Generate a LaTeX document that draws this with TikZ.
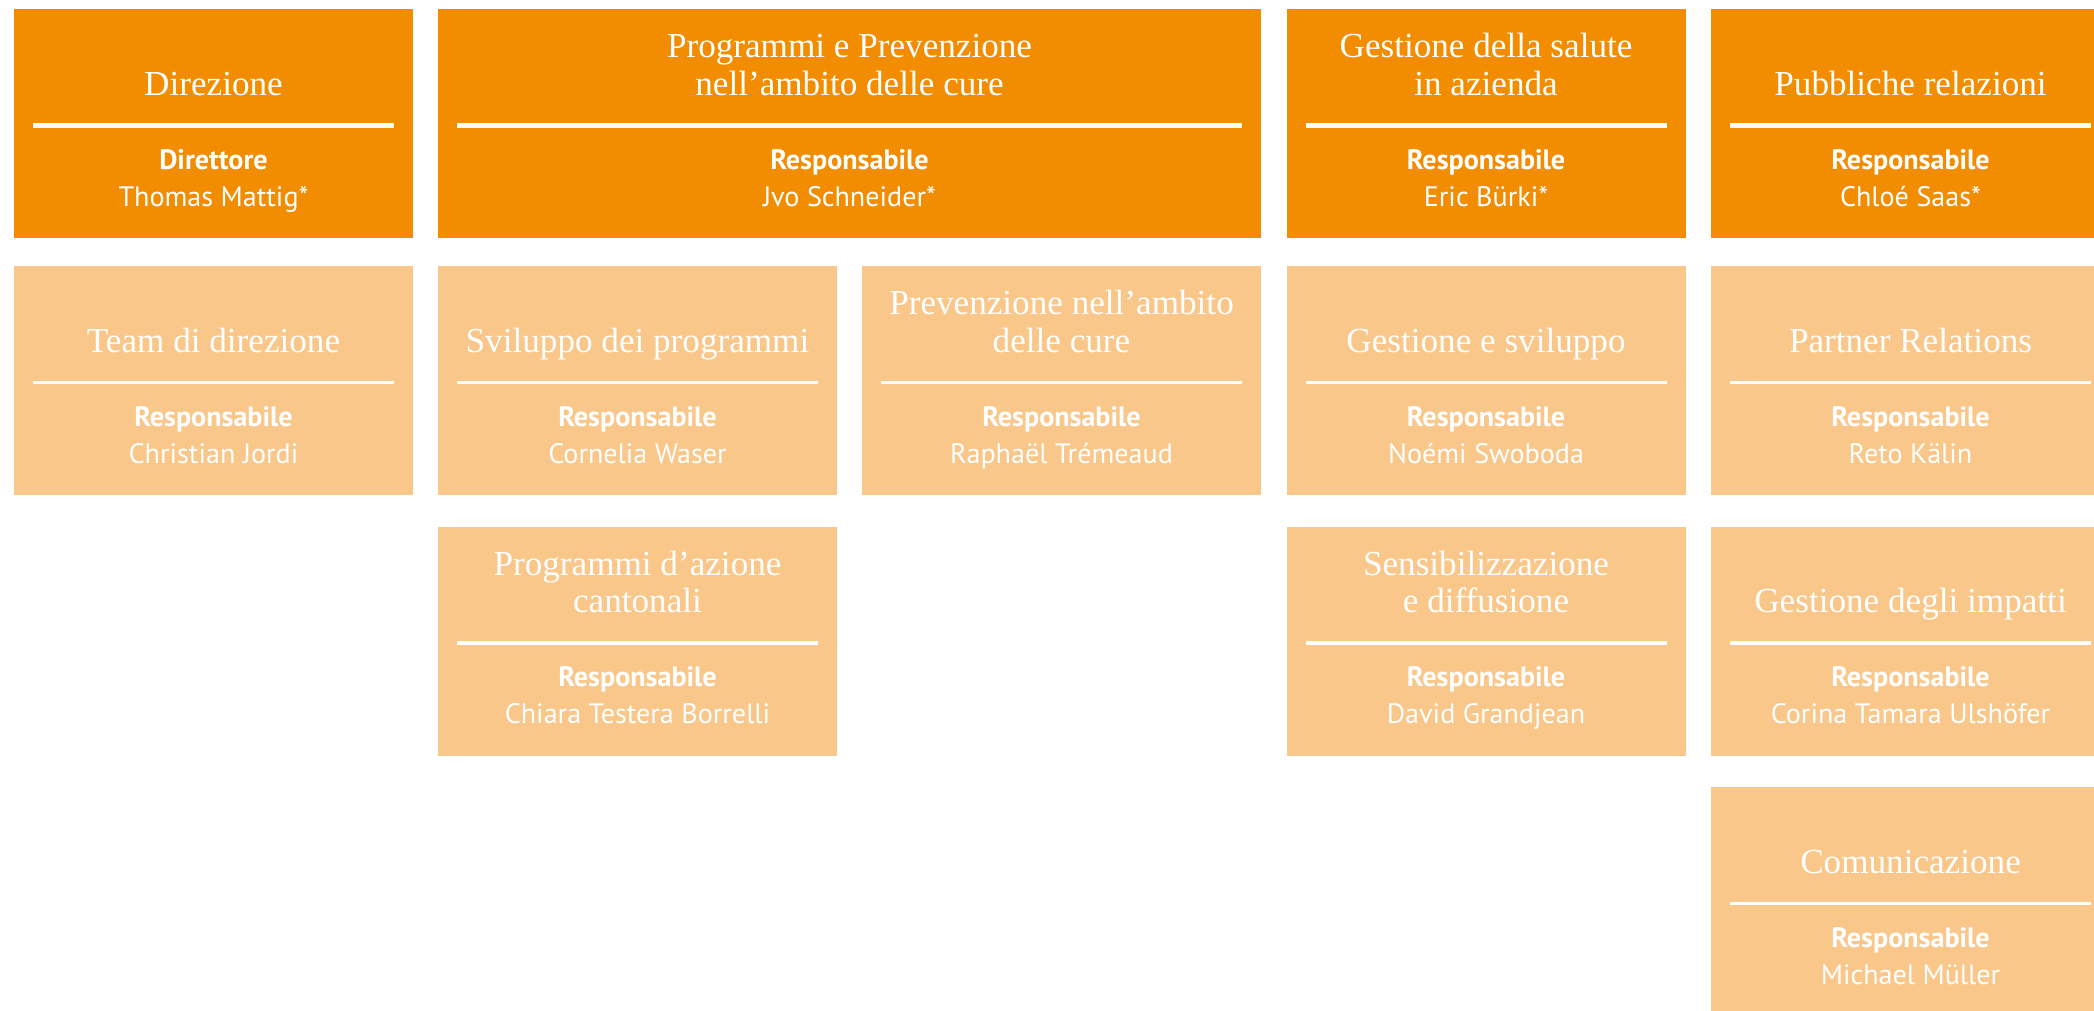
\documentclass[tikz,border=0pt]{standalone}
\usepackage{fontspec}
\setmainfont{Liberation Serif}
\setsansfont{PT Sans}
\definecolor{arancio}{HTML}{F28C00}
\definecolor{pesca}{HTML}{F9C78A}
\tikzset{
	%caselle dell'organigramma
	casella/.style = {anchor=north west, inner sep=0pt, outer sep=0pt,
                           minimum width=3.99cm, minimum height=2.295cm},
	capo/.style = {casella, fill=arancio},
	ufficio/.style = {casella, fill=pesca},
	%testi
	titolo/.style = {anchor=south, inner sep=0pt, text depth=0pt, align=center,
                           text=white, font=\fontsize{10}{10.7}\selectfont},
	nome/.style = {anchor=south, inner sep=0pt, text depth=0pt, align=center,
                           text=white, font=\sffamily\fontsize{8}{10.5}\selectfont},
	riga/.style = {white, line width=1.4pt},
	rigafine/.style = {white, line width=0.9pt}
}

\begin{document}
\begin{tikzpicture}
	\useasboundingbox (0,0) rectangle (20.94,-10.11);
	\clip (0,0) rectangle (20.94,-10.11);
	%caselle
	\node[capo] (dir)  at (0.14, -0.09) {};
	\node[capo, minimum width=8.23cm] (prog) at (4.38, -0.09) {};
	\node[capo] (bgm)  at (12.865, -0.09) {};
	\node[capo] (pr)   at (17.11, -0.09) {};
	\node[ufficio] (team) at (0.14, -2.66) {};
	\node[ufficio] (svil) at (4.38, -2.66) {};
	\node[ufficio] (prev) at (8.62, -2.66) {};
	\node[ufficio] (gest) at (12.865, -2.66) {};
	\node[ufficio] (part) at (17.11, -2.66) {};
	\node[ufficio] (cant) at (4.38, -5.265) {};
	\node[ufficio] (sens) at (12.865, -5.265) {};
	\node[ufficio] (imp)  at (17.11, -5.265) {};
	\node[ufficio] (com)  at (17.11, -7.87) {};
	%titoli
	\node[titolo] (dir-t)  at ([yshift=-0.87cm]dir.north)  {Direzione};
	\node[titolo] (prog-t) at ([yshift=-0.87cm]prog.north) {Programmi e Prevenzione\\nell’ambito delle cure};
	\node[titolo] (bgm-t)  at ([yshift=-0.87cm]bgm.north)  {Gestione della salute\\in azienda};
	\node[titolo] (pr-t)   at ([yshift=-0.87cm]pr.north)   {Pubbliche relazioni};
	\node[titolo] (team-t) at ([yshift=-0.87cm]team.north) {Team di direzione};
	\node[titolo] (svil-t) at ([yshift=-0.87cm]svil.north) {Sviluppo dei programmi};
	\node[titolo] (prev-t) at ([yshift=-0.87cm]prev.north) {Prevenzione nell’ambito\\delle cure};
	\node[titolo] (gest-t) at ([yshift=-0.87cm]gest.north) {Gestione e sviluppo};
	\node[titolo] (part-t) at ([yshift=-0.87cm]part.north) {Partner Relations};
	\node[titolo] (cant-t) at ([yshift=-0.87cm]cant.north) {Programmi d’azione\\cantonali};
	\node[titolo] (sens-t) at ([yshift=-0.87cm]sens.north) {Sensibilizzazione\\e diffusione};
	\node[titolo] (imp-t)  at ([yshift=-0.87cm]imp.north)  {Gestione degli impatti};
	\node[titolo] (com-t)  at ([yshift=-0.87cm]com.north)  {Comunicazione};
	%responsabili
	\node[nome] (dir-n)  at ([yshift=-1.98cm]dir.north)  {\textbf{Direttore}\\Thomas Mattig*};
	\node[nome] (prog-n) at ([yshift=-1.98cm]prog.north) {\textbf{Responsabile}\\Jvo Schneider*};
	\node[nome] (bgm-n)  at ([yshift=-1.98cm]bgm.north)  {\textbf{Responsabile}\\Eric Bürki*};
	\node[nome] (pr-n)   at ([yshift=-1.98cm]pr.north)   {\textbf{Responsabile}\\Chloé Saas*};
	\node[nome] (team-n) at ([yshift=-1.98cm]team.north) {\textbf{Responsabile}\\Christian Jordi};
	\node[nome] (svil-n) at ([yshift=-1.98cm]svil.north) {\textbf{Responsabile}\\Cornelia Waser};
	\node[nome] (prev-n) at ([yshift=-1.98cm]prev.north) {\textbf{Responsabile}\\Raphaël Trémeaud};
	\node[nome] (gest-n) at ([yshift=-1.98cm]gest.north) {\textbf{Responsabile}\\Noémi Swoboda};
	\node[nome] (part-n) at ([yshift=-1.98cm]part.north) {\textbf{Responsabile}\\Reto Kälin};
	\node[nome] (cant-n) at ([yshift=-1.98cm]cant.north) {\textbf{Responsabile}\\Chiara Testera Borrelli};
	\node[nome] (sens-n) at ([yshift=-1.98cm]sens.north) {\textbf{Responsabile}\\David Grandjean};
	\node[nome] (imp-n)  at ([yshift=-1.98cm]imp.north)  {\textbf{Responsabile}\\Corina Tamara Ulshöfer};
	\node[nome] (com-n)  at ([yshift=-1.98cm]com.north)  {\textbf{Responsabile}\\Michael Müller};
	%righe
	\foreach \c in {dir, prog, bgm, pr}
		\draw[riga] ([xshift=0.19cm, yshift=-1.165cm]\c.north west) -- ([xshift=-0.19cm, yshift=-1.165cm]\c.north east);
	\foreach \c in {team, svil, prev, gest, part, cant, sens, imp, com}
		\draw[rigafine] ([xshift=0.19cm, yshift=-1.165cm]\c.north west) -- ([xshift=-0.19cm, yshift=-1.165cm]\c.north east);
\end{tikzpicture}
\end{document}
